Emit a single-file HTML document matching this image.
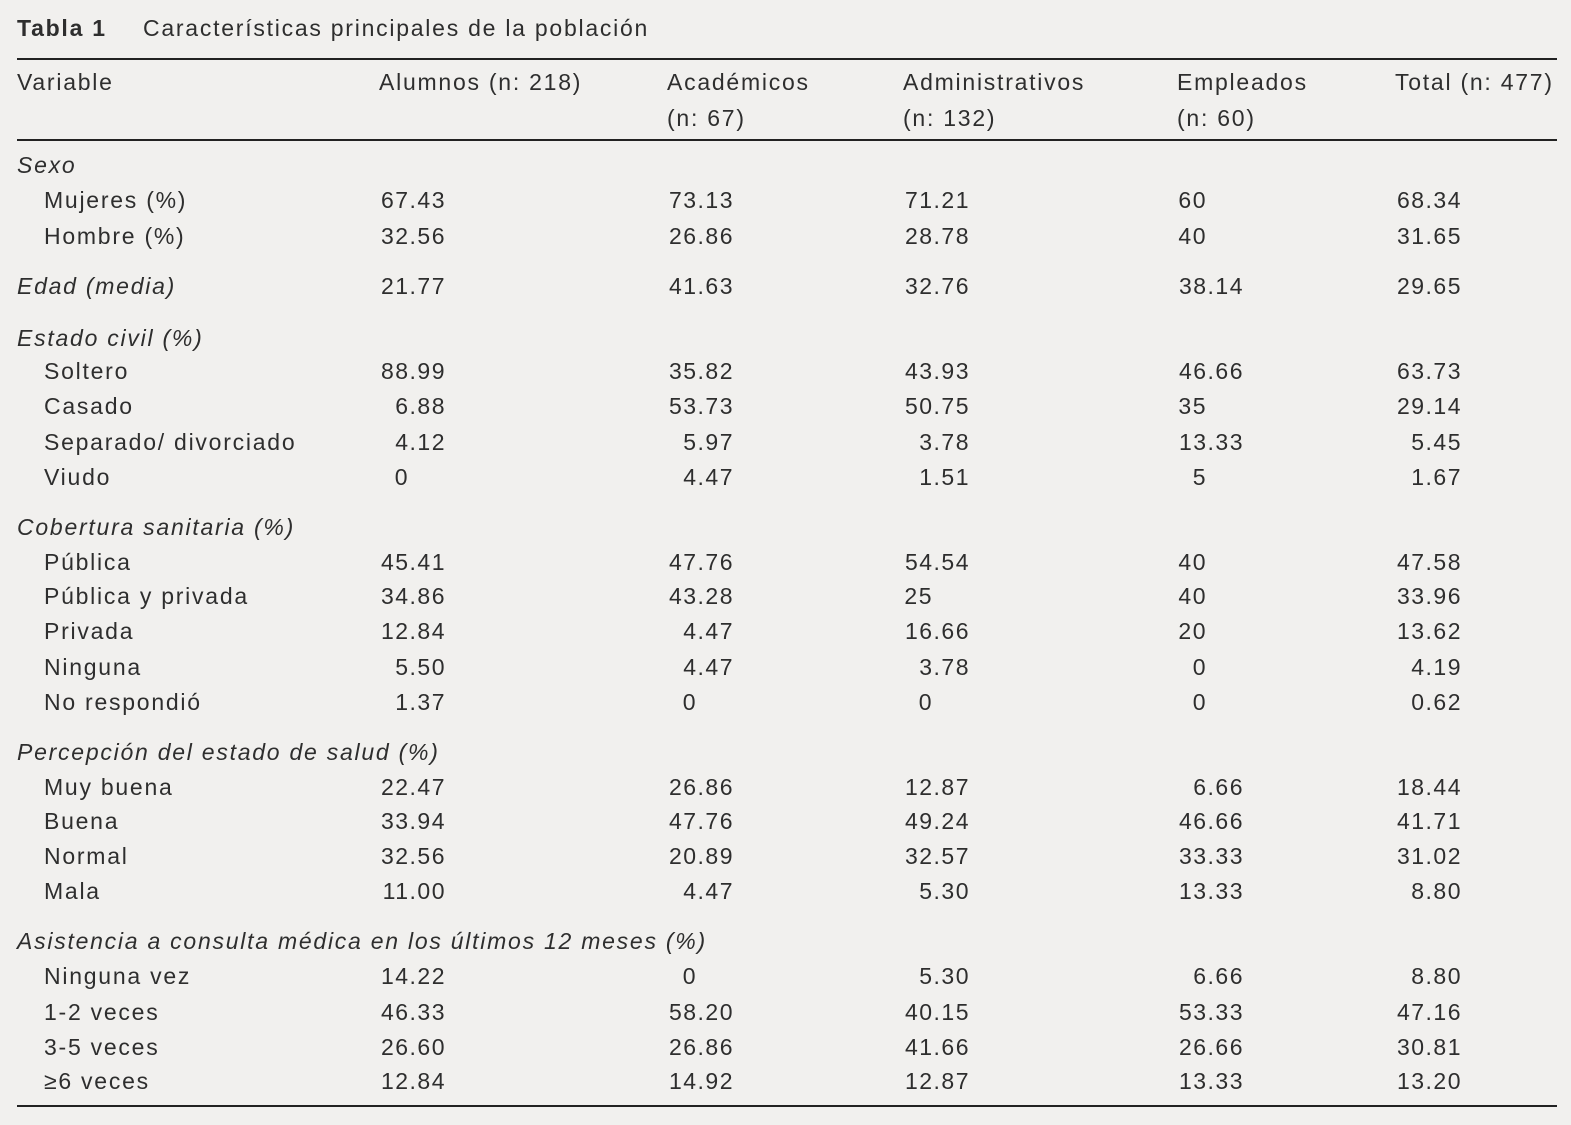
<!DOCTYPE html>
<html><head><meta charset="utf-8"><style>
body{margin:0;width:1571px;height:1125px;background:#f1f0ee;color:#2e2e2e;font-family:"Liberation Sans","DejaVu Sans",sans-serif;font-size:23px;position:relative;overflow:hidden}
.r{position:absolute;left:0;width:1571px;height:30px;line-height:30px}
.r span{position:absolute;white-space:nowrap;letter-spacing:1.75px}
.l{left:17px}.s{left:44px}
i{font-style:italic}
.a{right:1125px}.b{right:837px}.c{right:601px}.d{right:327px}.e{right:109px}
.r span.a,.r span.b,.r span.c,.r span.d,.r span.e{letter-spacing:1.5px;text-align:right}
.r span.n{padding-right:37px}
.h{position:absolute;left:17px;width:1540px;height:2px;background:#222}
</style></head><body>
<div class="r" style="top:13px"><span style="left:17px;font-weight:bold">Tabla 1</span><span style="left:143px">Características principales de la población</span></div>
<div class="h" style="top:58px"></div>
<div class="r" style="top:67px"><span class="l">Variable</span><span style="left:379px">Alumnos (n: 218)</span><span style="left:667px">Académicos</span><span style="left:903px">Administrativos</span><span style="left:1177px">Empleados</span><span style="left:1395px">Total (n: 477)</span></div>
<div class="r" style="top:103px"><span style="left:667px">(n: 67)</span><span style="left:903px">(n: 132)</span><span style="left:1177px">(n: 60)</span></div>
<div class="h" style="top:139px"></div>

<div class="r" style="top:150px"><span class="l"><i>Sexo</i></span></div>
<div class="r" style="top:185px"><span class="s">Mujeres (%)</span><span class="a">67.43</span><span class="b">73.13</span><span class="c">71.21</span><span class="d n">60</span><span class="e">68.34</span></div>
<div class="r" style="top:221px"><span class="s">Hombre (%)</span><span class="a">32.56</span><span class="b">26.86</span><span class="c">28.78</span><span class="d n">40</span><span class="e">31.65</span></div>
<div class="r" style="top:271px"><span class="l"><i>Edad (media)</i></span><span class="a">21.77</span><span class="b">41.63</span><span class="c">32.76</span><span class="d">38.14</span><span class="e">29.65</span></div>

<div class="r" style="top:323px"><span class="l"><i>Estado civil (%)</i></span></div>
<div class="r" style="top:356px"><span class="s">Soltero</span><span class="a">88.99</span><span class="b">35.82</span><span class="c">43.93</span><span class="d">46.66</span><span class="e">63.73</span></div>
<div class="r" style="top:391px"><span class="s">Casado</span><span class="a">6.88</span><span class="b">53.73</span><span class="c">50.75</span><span class="d n">35</span><span class="e">29.14</span></div>
<div class="r" style="top:427px"><span class="s">Separado/ divorciado</span><span class="a">4.12</span><span class="b">5.97</span><span class="c">3.78</span><span class="d">13.33</span><span class="e">5.45</span></div>
<div class="r" style="top:462px"><span class="s">Viudo</span><span class="a n">0</span><span class="b">4.47</span><span class="c">1.51</span><span class="d n">5</span><span class="e">1.67</span></div>

<div class="r" style="top:512px"><span class="l"><i>Cobertura sanitaria (%)</i></span></div>
<div class="r" style="top:547px"><span class="s">Pública</span><span class="a">45.41</span><span class="b">47.76</span><span class="c">54.54</span><span class="d n">40</span><span class="e">47.58</span></div>
<div class="r" style="top:581px"><span class="s">Pública y privada</span><span class="a">34.86</span><span class="b">43.28</span><span class="c n">25</span><span class="d n">40</span><span class="e">33.96</span></div>
<div class="r" style="top:616px"><span class="s">Privada</span><span class="a">12.84</span><span class="b">4.47</span><span class="c">16.66</span><span class="d n">20</span><span class="e">13.62</span></div>
<div class="r" style="top:652px"><span class="s">Ninguna</span><span class="a">5.50</span><span class="b">4.47</span><span class="c">3.78</span><span class="d n">0</span><span class="e">4.19</span></div>
<div class="r" style="top:687px"><span class="s">No respondió</span><span class="a">1.37</span><span class="b n">0</span><span class="c n">0</span><span class="d n">0</span><span class="e">0.62</span></div>

<div class="r" style="top:737px"><span class="l"><i>Percepción del estado de salud (%)</i></span></div>
<div class="r" style="top:772px"><span class="s">Muy buena</span><span class="a">22.47</span><span class="b">26.86</span><span class="c">12.87</span><span class="d">6.66</span><span class="e">18.44</span></div>
<div class="r" style="top:806px"><span class="s">Buena</span><span class="a">33.94</span><span class="b">47.76</span><span class="c">49.24</span><span class="d">46.66</span><span class="e">41.71</span></div>
<div class="r" style="top:841px"><span class="s">Normal</span><span class="a">32.56</span><span class="b">20.89</span><span class="c">32.57</span><span class="d">33.33</span><span class="e">31.02</span></div>
<div class="r" style="top:876px"><span class="s">Mala</span><span class="a">11.00</span><span class="b">4.47</span><span class="c">5.30</span><span class="d">13.33</span><span class="e">8.80</span></div>

<div class="r" style="top:926px"><span class="l"><i>Asistencia a consulta médica en los últimos 12 meses (%)</i></span></div>
<div class="r" style="top:961px"><span class="s">Ninguna vez</span><span class="a">14.22</span><span class="b n">0</span><span class="c">5.30</span><span class="d">6.66</span><span class="e">8.80</span></div>
<div class="r" style="top:997px"><span class="s">1-2 veces</span><span class="a">46.33</span><span class="b">58.20</span><span class="c">40.15</span><span class="d">53.33</span><span class="e">47.16</span></div>
<div class="r" style="top:1032px"><span class="s">3-5 veces</span><span class="a">26.60</span><span class="b">26.86</span><span class="c">41.66</span><span class="d">26.66</span><span class="e">30.81</span></div>
<div class="r" style="top:1066px"><span class="s">≥6 veces</span><span class="a">12.84</span><span class="b">14.92</span><span class="c">12.87</span><span class="d">13.33</span><span class="e">13.20</span></div>
<div class="h" style="top:1105px"></div>
</body></html>
